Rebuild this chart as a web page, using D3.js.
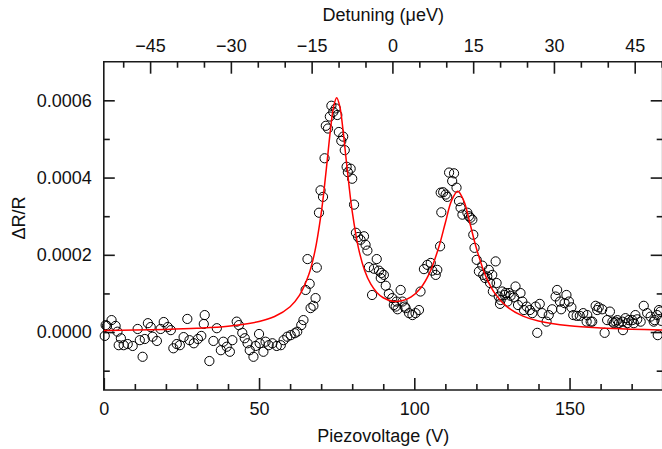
<!DOCTYPE html>
<html><head><meta charset="utf-8">
<script src="https://cdn.jsdelivr.net/npm/d3@7"></script>
<style>
body{margin:0;background:#fff}
svg{display:block}
text{font-family:"Liberation Sans",Arial,Helvetica,sans-serif;fill:#111}
</style>
</head><body>
<svg id="chart" width="662" height="449"></svg>
<script>
// ---- data ----
const piezoVoltage = [
0.3,0.6,1.0,2.5,3.8,4.4,4.8,5.5,6.4,7.7,9.3,10.9,11.6,12.5,13.2,14.2,15.1,15.7,17.1,18.3,
19.3,20.6,21.6,22.4,23.5,24.5,25.7,26.9,27.6,29.0,30.3,31.4,32.2,32.5,34.0,35.3,36.4,37.7,38.5,39.6,
40.6,41.4,42.8,43.5,44.6,45.4,46.3,47.0,48.2,48.9,50.0,50.2,51.4,52.1,53.1,54.3,55.7,57.0,57.9,59.1,
60.2,61.5,62.3,63.6,64.3,
65.0,65.6,66.3,66.6,67.5,68.2,68.6,69.3,69.8,70.6,71.1,71.5,72.2,72.8,73.3,73.9,74.7,75.2,75.7,76.5,
77.1,77.6,78.2,78.6,79.5,80.0,80.6,81.2,81.9,82.7,83.8,84.3,84.9,85.4,86.4,
87.0,87.9,88.6,89.2,89.4,90.2,90.8,91.8,92.9,93.4,94.0,94.3,94.6,95.6,96.2,96.9,97.2,98.3,99.4,100.4,
101.5,102.0,103.1,104.2,105.3,105.8,106.9,107.4,108.3,
108.5,108.7,109.3,110.1,110.6,111.2,112.2,112.8,113.6,114.4,114.9,115.5,117.1,117.6,118.1,118.7,119.0,119.4,120.1,120.8,
121.9,122.2,122.8,123.5,124.0,124.4,125.1,125.3,126.2,126.5,127.2,127.6,127.8,128.3,129.1,129.4,130.0,130.5,131.0,
132.1,132.6,133.4,134.2,134.8,135.3,136.2,137.2,138.0,139.1,139.6,140.4,141.2,142.6,143.3,144.4,145.5,146.0,146.9,147.3,
148.4,149.0,149.8,150.6,151.2,152.3,153.3,154.4,155.5,155.7,156.8,157.3,158.4,158.9,159.4,160.5,161.3,162.1,163.0,163.8,
164.3,164.8,165.4,165.9,167.0,167.2,168.0,168.6,169.1,170.2,170.7,171.2,171.8,172.9,173.9,175.0,176.1,177.1,177.4,178.2,
178.4,178.8,179.3,179.6
];
const deltaRR = [
-1.0e-5,1.8e-5,1.6e-5,3.1e-5,1.6e-5,0.1e-5,-3.4e-5,-1.6e-5,-3.4e-5,-3.1e-5,-3.6e-5,0.8e-5,-2.1e-5,-6.4e-5,-1.8e-5,2.3e-5,1.3e-5,-1.2e-5,-2.3e-5,0.8e-5,
2.6e-5,1.3e-5,0.5e-5,-4.2e-5,-3.1e-5,-3.4e-5,-1.3e-5,3.4e-5,-2.1e-5,-2.9e-5,-1.8e-5,-1.0e-5,2.1e-5,4.4e-5,-7.5e-5,-2.3e-5,1.0e-5,-4.7e-5,-2.5e-5,-3.8e-5,
-5.1e-5,-2.1e-5,2.7e-5,1.8e-5,-0.2e-5,-1.6e-5,-2.9e-5,-4.7e-5,-6.4e-5,-3.6e-5,-0.5e-5,-2.9e-5,-5.1e-5,-2.5e-5,-3.4e-5,-2.9e-5,-3.6e-5,-3.4e-5,-2.1e-5,-1.2e-5,
-0.8e-5,-0.3e-5,0.1e-5,1.8e-5,3.1e-5,
10.9e-5,18.9e-5,12.5e-5,6.2e-5,6.8e-5,8.8e-5,16.7e-5,30.9e-5,36.7e-5,35.0e-5,45.0e-5,53.4e-5,52.7e-5,55.8e-5,58.6e-5,57.0e-5,57.9e-5,56.2e-5,51.8e-5,49.5e-5,
50.6e-5,47.1e-5,42.8e-5,41.4e-5,42.3e-5,39.7e-5,33.0e-5,25.7e-5,24.6e-5,23.9e-5,24.8e-5,22.6e-5,21.1e-5,16.8e-5,9.6e-5,
16.4e-5,18.9e-5,15.9e-5,14.0e-5,15.3e-5,14.8e-5,12.0e-5,9.9e-5,8.8e-5,7.0e-5,6.6e-5,7.9e-5,5.9e-5,10.9e-5,7.9e-5,6.6e-5,6.2e-5,4.9e-5,4.4e-5,4.9e-5,
5.7e-5,10.5e-5,16.3e-5,17.4e-5,17.9e-5,15.9e-5,14.8e-5,16.1e-5,22.2e-5,
36.1e-5,31.0e-5,36.2e-5,35.6e-5,35.0e-5,41.3e-5,39.1e-5,41.1e-5,37.4e-5,33.9e-5,32.2e-5,30.4e-5,30.9e-5,30.0e-5,29.6e-5,29.1e-5,25.2e-5,21.8e-5,18.7e-5,15.7e-5,
17.2e-5,14.8e-5,14.0e-5,14.4e-5,16.1e-5,12.7e-5,14.8e-5,10.5e-5,18.3e-5,12.7e-5,9.2e-5,7.3e-5,8.3e-5,10.5e-5,9.6e-5,10.1e-5,7.9e-5,10.1e-5,9.4e-5,
9.0e-5,11.8e-5,7.0e-5,10.1e-5,7.9e-5,5.7e-5,6.6e-5,5.7e-5,4.9e-5,6.6e-5,-0.2e-5,7.3e-5,4.9e-5,2.7e-5,4.4e-5,5.9e-5,9.2e-5,10.9e-5,7.9e-5,5.9e-5,
7.5e-5,9.6e-5,7.9e-5,6.4e-5,4.4e-5,4.2e-5,4.2e-5,4.9e-5,2.7e-5,4.4e-5,2.7e-5,2.7e-5,6.8e-5,5.7e-5,6.4e-5,5.9e-5,-0.2e-5,3.1e-5,5.3e-5,2.7e-5,
2.3e-5,2.7e-5,3.1e-5,2.3e-5,2.7e-5,0.5e-5,3.6e-5,2.3e-5,3.1e-5,3.1e-5,2.3e-5,4.4e-5,3.3e-5,2.7e-5,6.8e-5,4.9e-5,4.0e-5,2.7e-5,3.1e-5,4.4e-5,
-0.8e-5,5.7e-5,5.3e-5,2.9e-5
];
// fitted curve (red)
const fitVoltage = [0,10,20,30,40,50,55,60,63,66,68,70,71,72,73,74,75,76,77,78,79,80,82,84,86,88,90,93,96,99,102,105,108,110,112,114,116,118,120,123,126,130,135,140,150,160,170,180];
const fitDeltaRR = [0.40e-5,0.52e-5,0.69e-5,0.99e-5,1.52e-5,2.73e-5,4.02e-5,6.57e-5,9.49e-5,14.81e-5,20.95e-5,30.68e-5,37.25e-5,44.76e-5,52.35e-5,58.32e-5,60.67e-5,58.44e-5,52.59e-5,45.12e-5,37.72e-5,31.27e-5,21.81e-5,15.96e-5,12.39e-5,10.20e-5,8.88e-5,7.99e-5,8.09e-5,9.13e-5,11.36e-5,15.46e-5,22.30e-5,28.31e-5,34.03e-5,36.46e-5,33.83e-5,27.91e-5,21.69e-5,14.49e-5,9.96e-5,6.47e-5,4.14e-5,2.88e-5,1.63e-5,1.05e-5,0.74e-5,0.55e-5];

const piezoTicks = [0,50,100,150];
const piezoMinorTicks = [10,20,30,40,60,70,80,90,110,120,130,140,160,170];
const detuningTicks = [-45,-30,-15,0,15,30,45];
const detuningMinorTicks = [-50,-40,-35,-25,-20,-10,-5,5,10,20,25,35,40,50];
const yTicks = [0,0.0002,0.0004,0.0006];
const yMinorTicks = [-0.0001,0.0001,0.0003,0.0005];
const xDomain = [0,180];
const yDomain = [-0.00015,0.0007];
const detuningDomain = [-53.6,50.2];

// ---- drawing ----
const L=103.8, R=662.7, T=61.7, B=390;
const svg = d3.select("#chart");
const x = d3.scaleLinear().domain(xDomain).range([L,R]);
const xt = d3.scaleLinear().domain(detuningDomain).range([L,R]);
const y = d3.scaleLinear().domain(yDomain).range([B,T]);
const axisColor = "#1a1a1a";

function styleAxis(g){
  g.select(".domain").remove();
  g.selectAll(".tick line").attr("stroke",axisColor).attr("stroke-width",1.6);
  g.selectAll(".tick text").attr("font-size",18).attr("fill","#111")
   .style("font-family",'"Liberation Sans",Arial,Helvetica,sans-serif');
}

svg.append("g").attr("transform",`translate(0,${B})`)
  .call(d3.axisBottom(x).tickValues(piezoTicks).tickSizeInner(-12).tickSizeOuter(0).tickPadding(12).tickFormat(d3.format("d")))
  .call(styleAxis);
svg.append("g").attr("transform",`translate(0,${B})`)
  .call(d3.axisBottom(x).tickValues(piezoMinorTicks).tickSizeInner(-6).tickSizeOuter(0).tickFormat(""))
  .call(styleAxis);
svg.append("g").attr("transform",`translate(0,${T})`)
  .call(d3.axisTop(xt).tickValues(detuningTicks).tickSizeInner(-12).tickSizeOuter(0).tickPadding(10).tickFormat(d3.format("d")))
  .call(styleAxis);
svg.append("g").attr("transform",`translate(0,${T})`)
  .call(d3.axisTop(xt).tickValues(detuningMinorTicks).tickSizeInner(-6).tickSizeOuter(0).tickFormat(""))
  .call(styleAxis);
svg.append("g").attr("transform",`translate(${L},0)`)
  .call(d3.axisLeft(y).tickValues(yTicks).tickSizeInner(-11).tickSizeOuter(0).tickPadding(12).tickFormat(d3.format(".4f")))
  .call(styleAxis);
svg.append("g").attr("transform",`translate(${L},0)`)
  .call(d3.axisLeft(y).tickValues(yMinorTicks).tickSizeInner(-6).tickSizeOuter(0).tickFormat(""))
  .call(styleAxis);
svg.append("g").attr("transform",`translate(${R},0)`)
  .call(d3.axisRight(y).tickValues(yTicks).tickSizeInner(-12).tickSizeOuter(0).tickFormat(""))
  .call(styleAxis);
svg.append("g").attr("transform",`translate(${R},0)`)
  .call(d3.axisRight(y).tickValues(yMinorTicks).tickSizeInner(-6).tickSizeOuter(0).tickFormat(""))
  .call(styleAxis);

const frame = svg.append("g").attr("stroke",axisColor).attr("stroke-width",1.6).attr("fill","none");
frame.append("path").attr("d",`M${L},${T}H${R}V${B}H${L}Z`);

const pts = piezoVoltage.map((v,i)=>({v, r:deltaRR[i]}));
svg.append("g").selectAll("circle").data(pts).join("circle")
  .attr("cx",d=>x(d.v)).attr("cy",d=>y(d.r)).attr("r",4.6)
  .attr("fill","none").attr("stroke","#000").attr("stroke-width",1);

const fit = fitVoltage.map((v,i)=>({v, r:fitDeltaRR[i]}));
svg.append("path").datum(fit)
  .attr("d",d3.line().x(d=>x(d.v)).y(d=>y(d.r)).curve(d3.curveCatmullRom.alpha(0.5)))
  .attr("fill","none").attr("stroke","#ff0000").attr("stroke-width",1.5);

svg.append("text").attr("x",(L+R)/2).attr("y",441.5).attr("text-anchor","middle")
  .attr("font-size",18).text("Piezovoltage (V)");
svg.append("text").attr("x",(L+R)/2).attr("y",21).attr("text-anchor","middle")
  .attr("font-size",18).text("Detuning (μeV)");
svg.append("text").attr("transform","translate(24.5,218) rotate(-90)").attr("text-anchor","middle")
  .attr("font-size",18).text("ΔR/R");
</script>
</body></html>
